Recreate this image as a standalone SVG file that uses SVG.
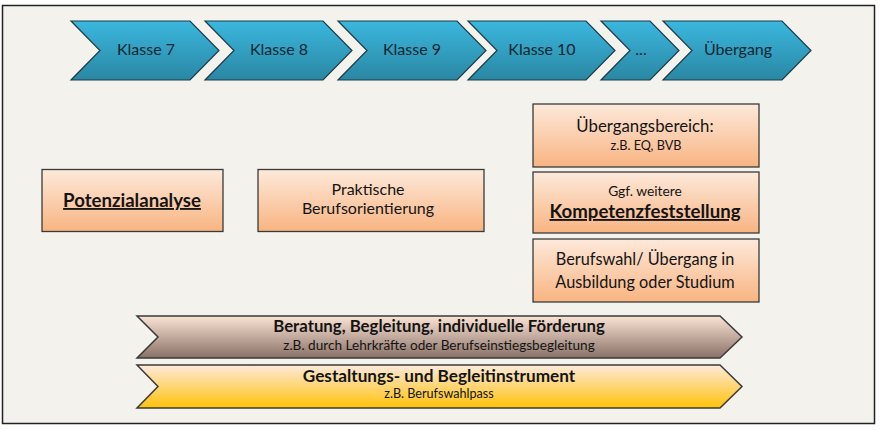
<svg xmlns="http://www.w3.org/2000/svg" width="880" height="430" viewBox="0 0 880 430">
<defs>
<linearGradient id="gBlue" x1="0" y1="0" x2="0" y2="1">
<stop offset="0" stop-color="#3bb7de"/>
<stop offset="1" stop-color="#2a87a3"/>
</linearGradient>
<linearGradient id="gPeach" x1="0" y1="0" x2="0" y2="1">
<stop offset="0" stop-color="#fde9db"/>
<stop offset="1" stop-color="#f8b481"/>
</linearGradient>
<linearGradient id="gBrown" x1="0" y1="0" x2="0" y2="1">
<stop offset="0" stop-color="#fbe3d5"/>
<stop offset="1" stop-color="#8a7167"/>
</linearGradient>
<linearGradient id="gGold" x1="0" y1="0" x2="0" y2="1">
<stop offset="0" stop-color="#fde9db"/>
<stop offset="1" stop-color="#ffc20a"/>
</linearGradient>
</defs>
<style>
.chev{fill:url(#gBlue);stroke:#1d3b47;stroke-width:1.2}
.box{fill:url(#gPeach);stroke:#3a3a3a;stroke-width:1.3}
.t{font-family:Lato,"Liberation Sans",sans-serif;fill:#141414;text-anchor:middle}
.ct{font-size:16px;fill:#0e2630}
.m{font-size:16px}
.b{font-weight:bold;font-size:18.6px}
.u{text-decoration:underline}
</style>
<rect x="2.5" y="5.5" width="872" height="418" fill="#f3f2ec" stroke="#222" stroke-width="1.5"/>
<g id="klasse7"><polygon class="chev" points="71,21 190,21 219,50.5 190,80 71,80 100,50.5"/><text class="t ct" x="146" y="55">Klasse 7</text></g>
<g id="klasse8"><polygon class="chev" points="205,21 323,21 352,50.5 323,80 205,80 234,50.5"/><text class="t ct" x="279" y="55">Klasse 8</text></g>
<g id="klasse9"><polygon class="chev" points="338,21 457,21 486,50.5 457,80 338,80 367,50.5"/><text class="t ct" x="412" y="55">Klasse 9</text></g>
<g id="klasse10"><polygon class="chev" points="468,21 586,21 615,50.5 586,80 468,80 497,50.5"/><text class="t ct" x="542" y="55">Klasse 10</text></g>
<g id="dots"><polygon class="chev" points="601,21 650,21 679,50.5 650,80 601,80 630,50.5"/><text class="t ct" x="641" y="55">...</text></g>
<g id="uebergang"><polygon class="chev" points="663,21 782,21 811,50.5 782,80 663,80 692,50.5"/><text class="t ct" x="738" y="55">Übergang</text></g>
<g id="potenzialanalyse"><rect class="box" x="42" y="169.5" width="181" height="62"/><text class="t b u" x="132" y="207">Potenzialanalyse</text></g>
<g id="praktische"><rect class="box" x="258" y="169.5" width="226" height="62"/><text class="t m" x="368" y="195" font-size="15.8">Praktische</text><text class="t m" x="368" y="214" font-size="15.8">Berufsorientierung</text></g>
<g id="uebergangsbereich"><rect class="box" x="533" y="104" width="226" height="63"/><text class="t" x="645" y="132" font-size="16.8">Übergangsbereich:</text><text class="t" x="646" y="150" font-size="12.7">z.B. EQ, BVB</text></g>
<g id="kompetenz"><rect class="box" x="533" y="172" width="226" height="61"/><text class="t" x="645" y="196" font-size="13.8">Ggf. weitere</text><text class="t b u" x="645" y="218">Kompetenzfeststellung</text></g>
<g id="berufswahl"><rect class="box" x="533" y="239" width="226" height="63"/><text class="t" x="645" y="265" font-size="16.3">Berufswahl/ Übergang in</text><text class="t" x="645" y="288" font-size="16.3">Ausbildung oder Studium</text></g>
<g id="beratung"><polygon points="137,316 720,316 742,337 720,358 137,358 158,337" fill="url(#gBrown)" stroke="#3a3a3a" stroke-width="1.5"/><text class="t" x="439" y="332" font-size="16.8" font-weight="bold">Beratung, Begleitung, individuelle Förderung</text><text class="t" x="439" y="349.5" font-size="13.6">z.B. durch Lehrkräfte oder Berufseinstiegsbegleitung</text></g>
<g id="gestaltung"><polygon points="137,365 720,365 742,386.5 720,408 137,408 158,386.5" fill="url(#gGold)" stroke="#3a3a3a" stroke-width="1.5"/><text class="t" x="439" y="382" font-size="17.2" font-weight="bold">Gestaltungs- und Begleitinstrument</text><text class="t" x="439" y="398" font-size="12.6">z.B. Berufswahlpass</text></g>
<g id="connectors"></g>
</svg>
